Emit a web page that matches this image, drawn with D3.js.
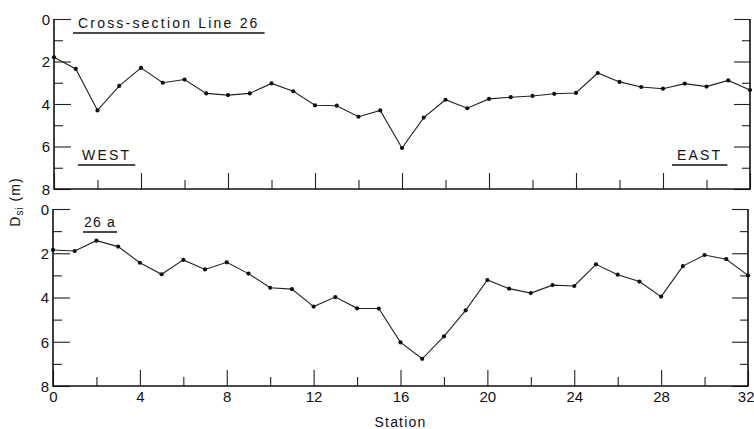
<!DOCTYPE html>
<html>
<head>
<meta charset="utf-8">
<script src="https://cdn.jsdelivr.net/npm/d3@7"></script>
<style>
  body { margin: 0; background: #fff; }
  svg { display: block; }
  text { font-family: "Liberation Sans", Arial, sans-serif; fill: #111; }
</style>
</head>
<body>
<svg id="chart" width="754" height="429"></svg>
<script>
// station numbers along the cross-section
const stations = [0, 1, 2, 3, 4, 5, 6, 7, 8, 9, 10, 11, 12, 13, 14, 15, 16,
  17, 18, 19, 20, 21, 22, 23, 24, 25, 26, 27, 28, 29, 30, 31, 32];

// D_si (m), Cross-section Line 26
const line26 = [1.8, 2.35, 4.3, 3.15, 2.3, 3.0, 2.85, 3.5, 3.58, 3.5, 3.03,
  3.4, 4.06, 4.08, 4.6, 4.3, 6.07, 4.64, 3.8, 4.2, 3.76, 3.68, 3.62, 3.52,
  3.48, 2.54, 2.96, 3.2, 3.28, 3.04, 3.18, 2.89, 3.34];

// D_si (m), line 26a
const line26a = [1.85, 1.9, 1.43, 1.7, 2.43, 2.95, 2.3, 2.73, 2.41, 2.92,
  3.56, 3.62, 4.41, 3.98, 4.49, 4.5, 6.03, 6.77, 5.76, 4.58, 3.21, 3.6, 3.8,
  3.44, 3.48, 2.5, 2.97, 3.28, 3.96, 2.58, 2.08, 2.27, 3.0];

const yMajor = [0, 2, 4, 6, 8];
const yMinor = [1, 3, 5, 7];
const xMajor = [0, 4, 8, 12, 16, 20, 24, 28, 32];
const xMinor = [2, 6, 10, 14, 18, 22, 26, 30];

const svg = d3.select("#chart");

const panels = [
  { values: line26, top: 19, bottom: 189, left: 54, right: 750, labels: false },
  { values: line26a, top: 209, bottom: 386, left: 53, right: 748, labels: true }
];

panels.forEach((p, i) => {
  const x = d3.scaleLinear().domain([0, 32]).range([p.left, p.right]);
  const y = d3.scaleLinear().domain([0, 8]).range([p.top, p.bottom]);
  p.x = x; p.y = y;

  const g = svg.append("g").attr("class", "panel" + i);

  // left axis, ticks pointing inward
  const leftMaj = g.append("g").attr("transform", `translate(${p.left},0)`)
    .call(d3.axisLeft(y).tickValues(yMajor).tickSize(-17).tickPadding(20)
      .tickFormat(d3.format("d")));
  g.append("g").attr("transform", `translate(${p.left},0)`)
    .call(d3.axisLeft(y).tickValues(yMinor).tickSize(-9).tickFormat(""));

  // right axis
  g.append("g").attr("transform", `translate(${p.right},0)`)
    .call(d3.axisRight(y).tickValues(yMajor).tickSize(-16).tickFormat(""));
  g.append("g").attr("transform", `translate(${p.right},0)`)
    .call(d3.axisRight(y).tickValues(yMinor).tickSize(-8).tickFormat(""));

  // bottom axis
  const botMaj = g.append("g").attr("transform", `translate(0,${p.bottom})`)
    .call(d3.axisBottom(x).tickValues(xMajor).tickSize(-16).tickPadding(20)
      .tickFormat(p.labels ? d3.format("d") : ""));
  g.append("g").attr("transform", `translate(0,${p.bottom})`)
    .call(d3.axisBottom(x).tickValues(xMinor).tickSize(-9).tickFormat(""));

  g.selectAll(".domain").remove();
  g.selectAll(".tick line").attr("stroke", "#222").attr("stroke-width", 1.1);
  g.selectAll(".tick text").attr("font-size", 15).attr("fill", "#111")
    .attr("font-family", "Liberation Sans, Arial, sans-serif");
  leftMaj.selectAll(".tick text").attr("x", -4).attr("dy", "0.36em");
  botMaj.selectAll(".tick text").attr("y", 5);
  // last station label sits at the page edge, keep it inside
  botMaj.selectAll(".tick text").filter(d => d === 32)
    .attr("text-anchor", "end").attr("x", 6);

  // frame: left, bottom, right
  g.append("path")
    .attr("d", `M${p.left},${p.top}V${p.bottom}H${p.right}V${p.top}`)
    .attr("fill", "none").attr("stroke", "#111").attr("stroke-width", 1.6);

  // the profile
  const pts = stations.map((s, k) => [s, p.values[k]]);
  g.append("path").datum(pts)
    .attr("fill", "none").attr("stroke", "#222").attr("stroke-width", 1.1)
    .attr("d", d3.line().x(d => x(d[0])).y(d => y(d[1])));
  g.selectAll("circle").data(pts).join("circle")
    .attr("cx", d => x(d[0])).attr("cy", d => y(d[1])).attr("r", 2.1)
    .attr("fill", "#111");
});

// annotations
function label(txt, xp, yp, size, spacing, under) {
  const t = svg.append("text").attr("x", xp).attr("y", yp)
    .attr("font-size", size).attr("letter-spacing", spacing).text(txt);
  if (under) {
    const w = t.node().getComputedTextLength();
    svg.append("line").attr("x1", xp - under).attr("x2", xp + w + under)
      .attr("y1", yp + 5).attr("y2", yp + 5)
      .attr("stroke", "#111").attr("stroke-width", 1.4);
  }
  return t;
}

const p0 = panels[0], p1 = panels[1];
label("Cross-section Line 26", 78, 28, 14, 2.2, 5);
label("WEST", 82, 160, 14, 2.2, 4);
label("EAST", 677, 160, 14, 2.2, 5);
label("26 a", 84, 227, 14, 1.2, 1);

svg.append("text")
  .attr("x", (p1.left + p1.right) / 2).attr("y", 427)
  .attr("text-anchor", "middle").attr("font-size", 14).attr("letter-spacing", 1.2)
  .text("Station");

const yl = svg.append("text")
  .attr("transform", "translate(20,202) rotate(-90)")
  .attr("text-anchor", "middle").attr("font-size", 14).attr("letter-spacing", 1);
yl.append("tspan").text("D");
yl.append("tspan").attr("font-size", 10).attr("dy", 3).text("si");
yl.append("tspan").attr("dy", -3).text(" (m)");
</script>
</body>
</html>
